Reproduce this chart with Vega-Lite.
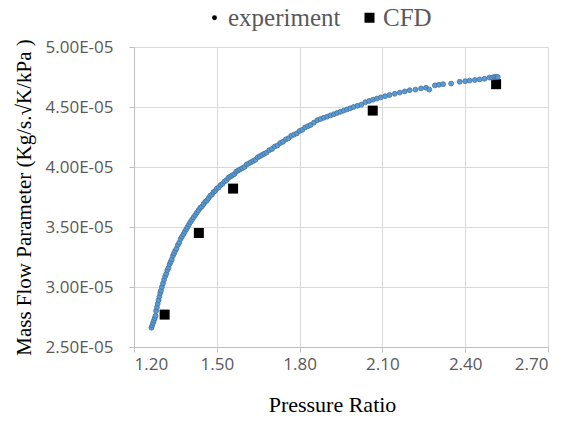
{
  "$schema": "https://vega.github.io/schema/vega-lite/v6.json",
  "autosize": {"type": "none"},
  "width": 414,
  "height": 300,
  "padding": {"left": 134, "top": 47, "right": 17, "bottom": 75},
  "background": "white",
  "config": {
    "view": {"stroke": null},
    "axis": {
      "gridColor": "#D9D9D9",
      "domainColor": "#BFBFBF",
      "tickColor": "#BFBFBF",
      "tickSize": 5,
      "labelFont": "Open Sans",
      "labelFontSize": 17,
      "labelColor": "#595959",
      "titleFont": "Liberation Serif",
      "titleFontWeight": "normal",
      "titleColor": "#000000"
    }
  },
  "datasets": {
    "exp": [
      {"pr": 1.263, "mfp": 2.66e-5}, {"pr": 1.266, "mfp": 2.68e-5}, {"pr": 1.269, "mfp": 2.70e-5},
      {"pr": 1.272, "mfp": 2.72e-5}, {"pr": 1.275, "mfp": 2.74e-5}, {"pr": 1.278, "mfp": 2.76e-5},
      {"pr": 1.280, "mfp": 2.80e-5}, {"pr": 1.283, "mfp": 2.83e-5}, {"pr": 1.286, "mfp": 2.86e-5},
      {"pr": 1.289, "mfp": 2.89e-5}, {"pr": 1.292, "mfp": 2.92e-5}, {"pr": 1.295, "mfp": 2.95e-5},
      {"pr": 1.298, "mfp": 2.97e-5}, {"pr": 1.301, "mfp": 3.00e-5}, {"pr": 1.305, "mfp": 3.03e-5},
      {"pr": 1.309, "mfp": 3.06e-5}, {"pr": 1.313, "mfp": 3.09e-5}, {"pr": 1.317, "mfp": 3.11e-5},
      {"pr": 1.321, "mfp": 3.14e-5}, {"pr": 1.325, "mfp": 3.16e-5}, {"pr": 1.329, "mfp": 3.19e-5},
      {"pr": 1.333, "mfp": 3.21e-5}, {"pr": 1.337, "mfp": 3.23e-5}, {"pr": 1.341, "mfp": 3.26e-5},
      {"pr": 1.345, "mfp": 3.28e-5}, {"pr": 1.349, "mfp": 3.30e-5}, {"pr": 1.354, "mfp": 3.32e-5},
      {"pr": 1.359, "mfp": 3.35e-5}, {"pr": 1.364, "mfp": 3.37e-5}, {"pr": 1.369, "mfp": 3.40e-5},
      {"pr": 1.374, "mfp": 3.42e-5}, {"pr": 1.379, "mfp": 3.44e-5}, {"pr": 1.384, "mfp": 3.46e-5},
      {"pr": 1.389, "mfp": 3.48e-5}, {"pr": 1.394, "mfp": 3.50e-5}, {"pr": 1.399, "mfp": 3.52e-5},
      {"pr": 1.404, "mfp": 3.54e-5}, {"pr": 1.410, "mfp": 3.56e-5}, {"pr": 1.416, "mfp": 3.58e-5},
      {"pr": 1.422, "mfp": 3.60e-5}, {"pr": 1.428, "mfp": 3.62e-5}, {"pr": 1.434, "mfp": 3.64e-5},
      {"pr": 1.440, "mfp": 3.66e-5}, {"pr": 1.446, "mfp": 3.67e-5}, {"pr": 1.452, "mfp": 3.69e-5},
      {"pr": 1.458, "mfp": 3.71e-5}, {"pr": 1.464, "mfp": 3.72e-5}, {"pr": 1.470, "mfp": 3.74e-5},
      {"pr": 1.476, "mfp": 3.76e-5}, {"pr": 1.482, "mfp": 3.77e-5}, {"pr": 1.488, "mfp": 3.79e-5},
      {"pr": 1.494, "mfp": 3.80e-5}, {"pr": 1.500, "mfp": 3.82e-5}, {"pr": 1.507, "mfp": 3.83e-5},
      {"pr": 1.514, "mfp": 3.85e-5}, {"pr": 1.521, "mfp": 3.86e-5}, {"pr": 1.528, "mfp": 3.88e-5},
      {"pr": 1.535, "mfp": 3.89e-5}, {"pr": 1.542, "mfp": 3.91e-5}, {"pr": 1.549, "mfp": 3.92e-5},
      {"pr": 1.556, "mfp": 3.93e-5}, {"pr": 1.563, "mfp": 3.94e-5}, {"pr": 1.570, "mfp": 3.96e-5},
      {"pr": 1.577, "mfp": 3.97e-5}, {"pr": 1.584, "mfp": 3.98e-5}, {"pr": 1.592, "mfp": 3.99e-5},
      {"pr": 1.600, "mfp": 4.00e-5}, {"pr": 1.608, "mfp": 4.02e-5}, {"pr": 1.616, "mfp": 4.03e-5},
      {"pr": 1.624, "mfp": 4.04e-5}, {"pr": 1.632, "mfp": 4.05e-5}, {"pr": 1.640, "mfp": 4.06e-5},
      {"pr": 1.648, "mfp": 4.08e-5}, {"pr": 1.656, "mfp": 4.09e-5}, {"pr": 1.664, "mfp": 4.10e-5},
      {"pr": 1.672, "mfp": 4.11e-5}, {"pr": 1.680, "mfp": 4.12e-5}, {"pr": 1.690, "mfp": 4.14e-5},
      {"pr": 1.700, "mfp": 4.15e-5}, {"pr": 1.710, "mfp": 4.17e-5}, {"pr": 1.720, "mfp": 4.18e-5},
      {"pr": 1.730, "mfp": 4.20e-5}, {"pr": 1.740, "mfp": 4.21e-5}, {"pr": 1.750, "mfp": 4.23e-5},
      {"pr": 1.760, "mfp": 4.24e-5}, {"pr": 1.770, "mfp": 4.26e-5}, {"pr": 1.780, "mfp": 4.27e-5},
      {"pr": 1.790, "mfp": 4.28e-5}, {"pr": 1.800, "mfp": 4.30e-5}, {"pr": 1.810, "mfp": 4.31e-5},
      {"pr": 1.820, "mfp": 4.33e-5}, {"pr": 1.830, "mfp": 4.34e-5}, {"pr": 1.840, "mfp": 4.35e-5},
      {"pr": 1.852, "mfp": 4.37e-5}, {"pr": 1.864, "mfp": 4.39e-5}, {"pr": 1.876, "mfp": 4.40e-5},
      {"pr": 1.888, "mfp": 4.41e-5}, {"pr": 1.900, "mfp": 4.42e-5}, {"pr": 1.912, "mfp": 4.43e-5},
      {"pr": 1.924, "mfp": 4.44e-5}, {"pr": 1.936, "mfp": 4.45e-5}, {"pr": 1.948, "mfp": 4.46e-5},
      {"pr": 1.960, "mfp": 4.47e-5}, {"pr": 1.972, "mfp": 4.48e-5}, {"pr": 1.984, "mfp": 4.49e-5},
      {"pr": 1.996, "mfp": 4.50e-5}, {"pr": 2.010, "mfp": 4.51e-5}, {"pr": 2.024, "mfp": 4.52e-5},
      {"pr": 2.038, "mfp": 4.54e-5}, {"pr": 2.052, "mfp": 4.55e-5}, {"pr": 2.066, "mfp": 4.56e-5},
      {"pr": 2.080, "mfp": 4.57e-5}, {"pr": 2.094, "mfp": 4.58e-5}, {"pr": 2.110, "mfp": 4.59e-5},
      {"pr": 2.126, "mfp": 4.60e-5}, {"pr": 2.145, "mfp": 4.61e-5}, {"pr": 2.163, "mfp": 4.62e-5},
      {"pr": 2.181, "mfp": 4.63e-5}, {"pr": 2.199, "mfp": 4.64e-5}, {"pr": 2.220, "mfp": 4.645e-5},
      {"pr": 2.240, "mfp": 4.655e-5}, {"pr": 2.258, "mfp": 4.66e-5}, {"pr": 2.270, "mfp": 4.645e-5},
      {"pr": 2.290, "mfp": 4.68e-5}, {"pr": 2.305, "mfp": 4.685e-5}, {"pr": 2.320, "mfp": 4.69e-5},
      {"pr": 2.349, "mfp": 4.695e-5}, {"pr": 2.380, "mfp": 4.71e-5}, {"pr": 2.400, "mfp": 4.715e-5},
      {"pr": 2.416, "mfp": 4.72e-5}, {"pr": 2.435, "mfp": 4.725e-5}, {"pr": 2.452, "mfp": 4.73e-5},
      {"pr": 2.470, "mfp": 4.735e-5}, {"pr": 2.488, "mfp": 4.745e-5}, {"pr": 2.498, "mfp": 4.745e-5},
      {"pr": 2.505, "mfp": 4.75e-5}, {"pr": 2.512, "mfp": 4.75e-5}, {"pr": 2.518, "mfp": 4.75e-5}
    ],
    "cfd": [
      {"pr": 1.311, "mfp": 2.77e-5},
      {"pr": 1.435, "mfp": 3.45e-5},
      {"pr": 1.559, "mfp": 3.82e-5},
      {"pr": 2.065, "mfp": 4.47e-5},
      {"pr": 2.512, "mfp": 4.69e-5}
    ]
  },
  "encoding": {
    "x": {
      "field": "pr", "type": "quantitative",
      "scale": {"domain": [1.2, 2.7], "nice": false, "zero": false},
      "axis": {
        "values": [1.2, 1.5, 1.8, 2.1, 2.4, 2.7], "format": ".2f",
        "title": "Pressure Ratio", "titleFontSize": 22, "titlePadding": 22,
        "titleX": 198, "labelPadding": 4
      }
    },
    "y": {
      "field": "mfp", "type": "quantitative",
      "scale": {"domain": [2.5e-5, 5.0e-5], "nice": false, "zero": false},
      "axis": {
        "values": [2.5e-5, 3.0e-5, 3.5e-5, 4.0e-5, 4.5e-5, 5.0e-5],
        "labelExpr": "format(datum.value * 100000, '.2f') + 'E-05'",
        "title": "Mass Flow Parameter (Kg/s.√K/kPa )", "titleFontSize": 21,
        "titlePadding": 11, "labelPadding": 16
      }
    },
    "shape": {
      "field": "series", "type": "nominal",
      "scale": {"domain": ["experiment", "CFD"], "range": ["circle", "square"]},
      "legend": {
        "title": null, "orient": "none", "direction": "horizontal",
        "legendX": 68, "legendY": -42,
        "labelFont": "Liberation Serif", "labelFontSize": 25, "labelColor": "#595959",
        "columnPadding": 16, "labelOffset": 1,
        "symbolFillColor": "black", "symbolStrokeColor": "black", "symbolStrokeWidth": 0
      }
    },
    "size": {
      "field": "series", "type": "nominal",
      "scale": {"domain": ["experiment", "CFD"], "range": [24, 100]},
      "legend": {
        "title": null, "orient": "none", "direction": "horizontal",
        "legendX": 68, "legendY": -42,
        "labelFont": "Liberation Serif", "labelFontSize": 25, "labelColor": "#595959",
        "columnPadding": 16, "labelOffset": 1,
        "symbolFillColor": "black", "symbolStrokeColor": "black", "symbolStrokeWidth": 0
      }
    }
  },
  "layer": [
    {
      "data": {"name": "cfd"},
      "transform": [{"calculate": "'CFD'", "as": "series"}],
      "mark": {"type": "point", "filled": true, "opacity": 1, "fill": "#000000", "strokeWidth": 0}
    },
    {
      "data": {"name": "exp"},
      "transform": [{"calculate": "'experiment'", "as": "series"}],
      "mark": {"type": "point", "filled": true, "opacity": 1, "fill": "#5B9BD5", "stroke": "#41719C", "strokeWidth": 0.8}
    }
  ]
}
